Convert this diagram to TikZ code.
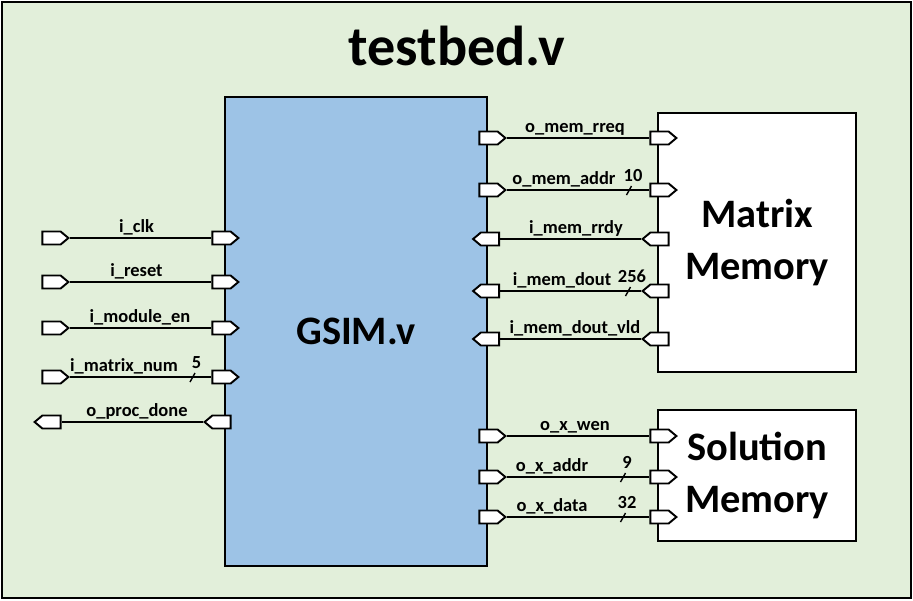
\documentclass[tikz,border=0pt]{standalone}
\usepackage{fontspec}
\setmainfont{Carlito}
\usetikzlibrary{shapes.symbols}
\definecolor{bggreen}{RGB}{226,239,218}
\definecolor{modblue}{RGB}{157,195,230}
\begin{document}
\begin{tikzpicture}[x=0.02cm,y=-0.02cm,
    port/.style={signal,draw,fill=white,line width=1.1pt,inner sep=0pt,
      minimum width=0.52cm,minimum height=0.26cm,signal pointer angle=80},
    portE/.style={port,signal to=east},
    portW/.style={port,signal to=west},
    wire/.style={line width=0.8pt},
    sig/.style={font=\fontsize{10.5}{12}\selectfont\bfseries,anchor=base,inner sep=0pt},
    block/.style={draw,line width=1.1pt,font=\fontsize{23}{30}\selectfont\bfseries,align=center}]
  \useasboundingbox (0,0) rectangle (913,600);
  \draw[line width=1.1pt,fill=bggreen] (2,2) rectangle (911,598);
  \node[font=\fontsize{32}{36}\selectfont\bfseries,anchor=base] (title) at (457,65) {testbed.v};
  \node[block,fill=modblue,minimum width=5.24cm,minimum height=9.38cm] (gsim) at (356,331.5) {GSIM.v};
  \node[block,fill=white,minimum width=3.96cm,minimum height=5.18cm] (mmem) at (757,242.5) {Matrix\\Memory};
  \node[block,fill=white,minimum width=3.96cm,minimum height=2.62cm] (smem) at (757,475.5) {Solution\\Memory};
  \foreach \y/\txt/\lx [count=\i] in {238/i\_clk/136.5, 282/i\_reset/136.5,
      328/i\_module\_en/140, 377/i\_matrix\_num/124}{
    \node[portE] (xin\i) at (51.5,\y) {};
    \node[portE] (gin\i) at (221.5,\y) {};
    \draw[wire] (xin\i) -- (gin\i);
    \node[sig] (lin\i) at (\lx,\y-5.5) {\txt};
  }
  \node[portW] (gdone) at (221.5,422) {};
  \node[portW] (xdone) at (51.5,422) {};
  \draw[wire] (gdone) -- (xdone);
  \node[sig] (ldone) at (137,416.5) {o\_proc\_done};
  \foreach \y/\txt/\lx [count=\i] in {138/o\_mem\_rreq/575, 190/o\_mem\_addr/564,
      436/o\_x\_wen/575, 477/o\_x\_addr/552, 517/o\_x\_data/552}{
    \node[portE] (gout\i) at (488.5,\y) {};
    \node[portE] (mout\i) at (659.5,\y) {};
    \draw[wire] (gout\i) -- (mout\i);
    \node[sig] (lout\i) at (\lx,\y-5.5) {\txt};
  }
  \foreach \y/\txt/\lx [count=\i] in {239/i\_mem\_rrdy/576, 291/i\_mem\_dout/562,
      339/i\_mem\_dout\_vld/575}{
    \node[portW] (min\i) at (659.5,\y) {};
    \node[portW] (gmin\i) at (490,\y) {};
    \draw[wire] (min\i) -- (gmin\i);
    \node[sig] (lmin\i) at (\lx,\y-5.5) {\txt};
  }
  \foreach \x/\y/\w in {192.5/377/5, 629/190/10, 628/291/256, 623/477/9, 623/517/32}{
    \draw[wire] (\x-2.5,\y+5) -- (\x+2.5,\y-4);
    \node[sig] at (\x+4,\y-9) {\w};
  }
\end{tikzpicture}
\end{document}
